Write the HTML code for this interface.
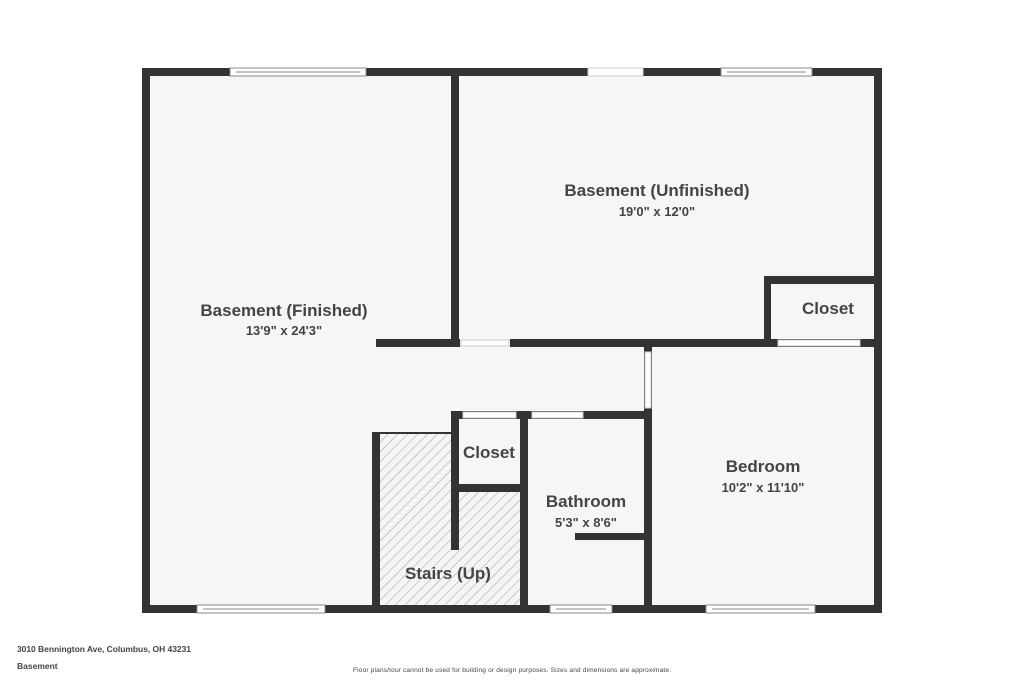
<!DOCTYPE html>
<html><head><style>body{margin:0;background:#fff}svg{display:block}text{font-family:"Liberation Sans",sans-serif;fill:#444;font-weight:bold;text-anchor:middle}</style></head>
<body>
<svg width="1024" height="683" viewBox="0 0 1024 683">
<defs><pattern id="h" width="7" height="7" patternUnits="userSpaceOnUse" patternTransform="rotate(45)"><rect width="7" height="7" fill="#f5f5f5"/><line x1="0" y1="0" x2="0" y2="7" stroke="#888" stroke-width="0.8"/></pattern></defs>
<rect x="146" y="72" width="732" height="537" fill="#f6f6f6"/>
<polygon points="380,434 451,434 451,492 520,492 520,605 380,605" fill="url(#h)"/>
<g fill="#333">
<rect x="142" y="68" width="740" height="8"/>
<rect x="142" y="605" width="740" height="8"/>
<rect x="142" y="68" width="8" height="545"/>
<rect x="874" y="68" width="8" height="545"/>
<rect x="451" y="72" width="8" height="275"/>
<rect x="376" y="339" width="84" height="8"/>
<rect x="510" y="339" width="372" height="8"/>
<rect x="764" y="276" width="7" height="70"/>
<rect x="764" y="276" width="114" height="8"/>
<rect x="644" y="343" width="8" height="266"/>
<rect x="451" y="411" width="200" height="8"/>
<rect x="451" y="411" width="8" height="139"/>
<rect x="451" y="484" width="76" height="8"/>
<rect x="520" y="411" width="8" height="198"/>
<rect x="372" y="432" width="8" height="177"/>
<rect x="372" y="432" width="80" height="2"/>
<rect x="575" y="533" width="76" height="7"/>
</g>
<g fill="#fff" stroke="#888" stroke-width="1">
<rect x="230" y="68" width="136" height="8"/>
<rect x="721" y="68" width="91" height="8"/>
<rect x="197" y="605" width="128" height="8"/>
<rect x="550" y="605" width="62" height="8"/>
<rect x="706" y="605" width="109" height="8"/>
</g>
<g stroke="#888" stroke-width="1"><line x1="236" y1="72" x2="360" y2="72"/><line x1="727" y1="72" x2="806" y2="72"/><line x1="203" y1="609" x2="319" y2="609"/><line x1="556" y1="609" x2="606" y2="609"/><line x1="712" y1="609" x2="809" y2="609"/></g>
<g fill="#fff" stroke="#ccc" stroke-width="1">
<rect x="588" y="68" width="55" height="8"/>
<rect x="461" y="340" width="48" height="6"/>
<rect x="778" y="340" width="82" height="6"/>
<rect x="645" y="352" width="6" height="56"/>
<rect x="463" y="412" width="53" height="6"/>
<rect x="532" y="412" width="51" height="6"/>
</g>
<text x="284" y="316" font-size="17">Basement (Finished)</text>
<text x="284" y="335" font-size="13">13'9" x 24'3"</text>
<text x="657" y="196" font-size="17">Basement (Unfinished)</text>
<text x="657" y="216" font-size="13">19'0" x 12'0"</text>
<text x="828" y="314" font-size="17">Closet</text>
<text x="489" y="458" font-size="17">Closet</text>
<text x="586" y="507" font-size="17">Bathroom</text>
<text x="586" y="527" font-size="13">5'3" x 8'6"</text>
<text x="763" y="472" font-size="17">Bedroom</text>
<text x="763" y="492" font-size="13">10'2" x 11'10"</text>
<text x="448" y="579" font-size="17">Stairs (Up)</text>
<text x="17" y="652" font-size="8.5" style="text-anchor:start" textLength="174">3010 Bennington Ave, Columbus, OH 43231</text>
<text x="17" y="669" font-size="8.5" style="text-anchor:start">Basement</text>
<text x="512" y="672" font-size="6.5" style="font-weight:normal" textLength="318">Floor plans/tour cannot be used for building or design purposes. Sizes and dimensions are approximate.</text>
</svg>
</body></html>
